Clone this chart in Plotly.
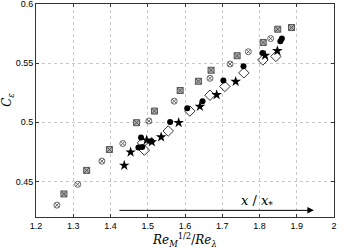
import plotly.graph_objects as go

# Series: x = Re_M^{1/2}/Re_lambda, y = C_eps
cx_x = [1.256, 1.312, 1.377, 1.433, 1.503, 1.571, 1.667, 1.721, 1.770, 1.830]
cx_y = [0.430, 0.4476, 0.4672, 0.4821, 0.5011, 0.5179, 0.5372, 0.5493, 0.5597, 0.5708]

sx_x = [1.275, 1.336, 1.397, 1.470, 1.518, 1.587, 1.636, 1.670, 1.740, 1.810, 1.849, 1.886]
sx_y = [0.4395, 0.4594, 0.477, 0.4997, 0.5095, 0.5269, 0.5347, 0.544, 0.5563, 0.5675, 0.5787, 0.5801]

dot_x = [1.475, 1.485, 1.482, 1.510, 1.560, 1.606, 1.647, 1.703, 1.757, 1.808, 1.860, 1.856]
dot_y = [0.4787, 0.4792, 0.4871, 0.4840, 0.5003, 0.5118, 0.5179, 0.5353, 0.5473, 0.5585, 0.5708, 0.5685]

dia_x = [1.486, 1.491, 1.555, 1.613, 1.667, 1.707, 1.758, 1.809, 1.844]
dia_y = [0.4826, 0.4765, 0.4927, 0.5095, 0.5229, 0.5303, 0.5418, 0.5527, 0.5557]

star_x = [1.437, 1.454, 1.497, 1.511, 1.536, 1.583, 1.640, 1.685, 1.736, 1.815, 1.848]
star_y = [0.4636, 0.4748, 0.4849, 0.4834, 0.4876, 0.4997, 0.5134, 0.5233, 0.5345, 0.5566, 0.5605]

x_ticks = [1.2, 1.3, 1.4, 1.5, 1.6, 1.7, 1.8, 1.9, 2.0]
x_tick_text = ["1.2", "1.3", "1.4", "1.5", "1.6", "1.7", "1.8", "1.9", "2"]
y_ticks = [0.45, 0.5, 0.55, 0.6]
y_tick_text = ["0.45", "0.5", "0.55", "0.6"]

arrow_x = [1.42, 1.946]
arrow_y = 0.4256

fig = go.Figure()
fig.add_trace(go.Scatter(x=cx_x, y=cx_y, mode="markers",
                         marker=dict(symbol="circle-x-open", size=6, color="#666666", line=dict(width=1))))
fig.add_trace(go.Scatter(x=sx_x, y=sx_y, mode="markers",
                         marker=dict(symbol="square-x", size=6, color="#b0b0b0", line=dict(width=1, color="#555555"))))
fig.add_trace(go.Scatter(x=dot_x, y=dot_y, mode="markers",
                         marker=dict(symbol="circle", size=6, color="black")))
fig.add_trace(go.Scatter(x=dia_x, y=dia_y, mode="markers",
                         marker=dict(symbol="diamond-open", size=8, color="black", line=dict(width=0.8))))
fig.add_trace(go.Scatter(x=star_x, y=star_y, mode="markers",
                         marker=dict(symbol="star", size=8, color="black")))

fig.add_annotation(x=arrow_x[1], y=arrow_y, ax=arrow_x[0], ay=arrow_y,
                   xref="x", yref="y", axref="x", ayref="y",
                   showarrow=True, arrowhead=2, arrowsize=1.3, arrowwidth=1, arrowcolor="black", text="")
fig.add_annotation(x=1.793, y=arrow_y, xref="x", yref="y", yshift=9, showarrow=False,
                   text="<i>x</i> / <i>x</i><sub>*</sub>",
                   font=dict(family="DejaVu Serif", size=13, color="black"))

# axis titles as annotations for precise placement
fig.add_annotation(x=0.497, y=-0.055, xref="paper", yref="paper", showarrow=False,
                   xanchor="center", yanchor="top",
                   text="<i>Re</i><sub><i>M</i></sub><sup>1/2</sup>/<i>Re</i><sub><i>λ</i></sub>",
                   font=dict(family="DejaVu Serif", size=12, color="black"))
fig.add_annotation(x=-0.094, y=0.55, xref="paper", yref="paper", showarrow=False,
                   xanchor="center", yanchor="middle", textangle=-90,
                   text="<i>C</i><sub><i>ε</i></sub>",
                   font=dict(family="DejaVu Serif", size=12, color="black"))

axis_common = dict(showline=True, linecolor="#333333", linewidth=1, mirror="ticks",
                   ticks="inside", ticklen=3, tickcolor="#333333",
                   showgrid=True, gridcolor="#c8c8c8", griddash="dot", gridwidth=1,
                   zeroline=False, ticklabeloverflow="allow", automargin=False,
                   tickfont=dict(family="Liberation Sans", size=9, color="black"))

fig.update_xaxes(range=[1.2, 2.0], tickvals=x_ticks, ticktext=x_tick_text, **axis_common)
fig.update_yaxes(range=[0.42, 0.6], tickvals=y_ticks, ticktext=y_tick_text, **axis_common)

fig.update_layout(width=354, height=248, showlegend=False,
                  margin=dict(l=36, r=20, t=4, b=31),
                  plot_bgcolor="white", paper_bgcolor="white")

fig.write_html("out.html", config={"displayModeBar": False},
               post_script="document.body.style.margin='0';")
